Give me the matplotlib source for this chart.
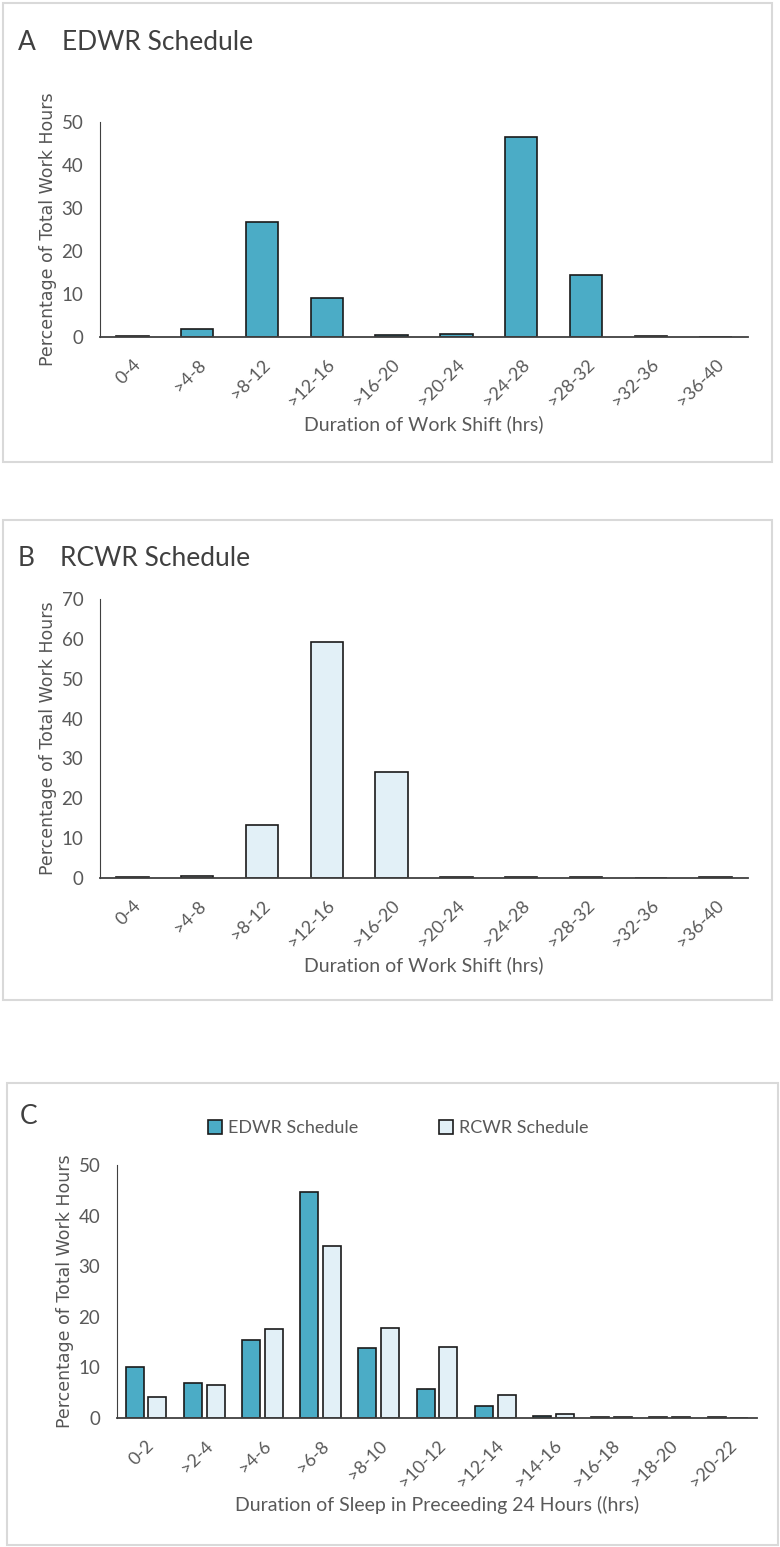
import matplotlib
matplotlib.use("Agg")
import matplotlib.pyplot as plt
from matplotlib.patches import Rectangle
import numpy as np

shift_bins = ["0-4", ">4-8", ">8-12", ">12-16", ">16-20", ">20-24", ">24-28", ">28-32", ">32-36", ">36-40"]
edwr_shift = [0.2, 1.8, 26.8, 9.0, 0.4, 0.8, 46.4, 14.5, 0.2, 0.0]
rcwr_shift = [0.2, 0.4, 13.2, 59.3, 26.7, 0.2, 0.2, 0.2, 0.0, 0.2]

sleep_bins = ["0-2", ">2-4", ">4-6", ">6-8", ">8-10", ">10-12", ">12-14", ">14-16", ">16-18", ">18-20", ">20-22"]
edwr_sleep = [10.1, 6.9, 15.4, 44.6, 13.8, 5.7, 2.4, 0.4, 0.2, 0.2, 0.2]
rcwr_sleep = [4.1, 6.6, 17.6, 33.9, 17.8, 14.0, 4.5, 0.8, 0.2, 0.2, 0.0]

DARK = "#4BACC6"
LIGHT = "#E2F0F7"
TXT = "#595959"
EDGE = "#1a1a1a"
FONT = ["Lato", "DejaVu Sans"]

W, H = 780, 1547
fig = plt.figure(figsize=(7.8, 15.47), dpi=100)

def fx(px):
    return px / W

def fy(py):
    return 1 - py / H

def frame(x0, y0, x1, y1):
    fig.patches.append(Rectangle((fx(x0), fy(y1)), fx(x1 - x0), (y1 - y0) / H,
                                 transform=fig.transFigure, fill=False,
                                 edgecolor="#D9D9D9", linewidth=1.5))

def make_ax(x0, x1, ytop, ybot):
    ax = fig.add_axes([fx(x0), fy(ybot), fx(x1 - x0), (ybot - ytop) / H])
    for s in ["top", "right"]:
        ax.spines[s].set_visible(False)
    ax.spines["left"].set_color("#404040")
    ax.spines["left"].set_linewidth(0.8)
    ax.spines["bottom"].set_color("#404040")
    ax.spines["bottom"].set_linewidth(1.3)
    ax.tick_params(axis="both", length=0, colors=TXT)
    return ax

def style_common(ax, labels, xlabel, ymax, step):
    ax.set_ylim(0, ymax)
    ax.set_yticks(np.arange(0, ymax + 1, step))
    ax.set_yticklabels([str(v) for v in range(0, ymax + 1, step)], family=FONT, fontsize=13.5, color=TXT)
    ax.set_xticks(np.arange(len(labels)))
    ax.set_xticklabels(labels, rotation=45, ha="right", rotation_mode="anchor",
                       family=FONT, fontsize=13, color=TXT)
    ax.tick_params(axis="x", pad=14)
    ax.tick_params(axis="y", pad=12)
    ax.set_xlim(-0.5, len(labels) - 0.5)
    ax.set_xlabel(xlabel, family=FONT, fontsize=14, color=TXT, labelpad=4)
    ax.set_ylabel("Percentage of Total Work Hours", family="DejaVu Sans", fontsize=12.5,
                  color="#555555", labelpad=3)

# Panel A
frame(3, 3, 772, 462)
axA = make_ax(100, 748, 122, 337)
x = np.arange(len(shift_bins))
axA.bar(x, edwr_shift, width=0.5, color=DARK, edgecolor=EDGE, linewidth=1.2, zorder=2)
style_common(axA, shift_bins, "Duration of Work Shift (hrs)", 50, 10)
fig.text(fx(18), fy(42), "A", family=FONT, fontsize=19, color="#404040", va="center")
fig.text(fx(62), fy(42), "EDWR Schedule", family=FONT, fontsize=19, color="#404040", va="center")

# Panel B
frame(3, 520, 772, 1000)
axB = make_ax(100, 748, 599, 878)
axB.bar(x, rcwr_shift, width=0.5, color=LIGHT, edgecolor=EDGE, linewidth=1.2, zorder=2)
style_common(axB, shift_bins, "Duration of Work Shift (hrs)", 70, 10)
fig.text(fx(18), fy(558), "B", family=FONT, fontsize=19, color="#404040", va="center")
fig.text(fx(60), fy(558), "RCWR Schedule", family=FONT, fontsize=19, color="#404040", va="center")

# Panel C
frame(7, 1083, 778, 1545)
axC = make_ax(117, 757, 1165, 1418)
xc = np.arange(len(sleep_bins))
axC.bar(xc - 0.195, edwr_sleep, width=0.31, color=DARK, edgecolor=EDGE, linewidth=1.2,
        zorder=2, label="EDWR Schedule")
axC.bar(xc + 0.195, rcwr_sleep, width=0.31, color=LIGHT, edgecolor=EDGE, linewidth=1.2,
        zorder=2, label="RCWR Schedule")
style_common(axC, sleep_bins, "Duration of Sleep in Preceeding 24 Hours ((hrs)", 50, 10)
fig.text(fx(20), fy(1117), "C", family=FONT, fontsize=19, color="#404040", va="center")
leg = axC.legend(loc="center", bbox_to_anchor=(fx(398), fy(1128)), bbox_transform=fig.transFigure,
                 ncol=2, frameon=False, handlelength=0.8, handleheight=0.8, columnspacing=4.5,
                 handletextpad=0.3, prop={"family": FONT, "size": 13})
for t in leg.get_texts():
    t.set_color(TXT)

fig.savefig("out.png", dpi=100, facecolor="white")
